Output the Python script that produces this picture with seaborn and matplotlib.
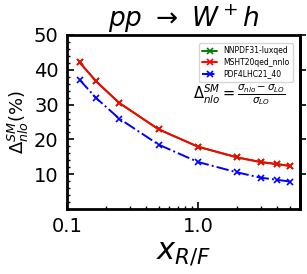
import numpy as np
import pandas as pd
import seaborn as sns
import matplotlib
matplotlib.use("Agg")
import matplotlib.pyplot as plt
from matplotlib.ticker import MultipleLocator, FixedLocator, NullFormatter

# scale factor x_{R/F}
x_rf = [0.125, 1 / 6, 0.25, 0.5, 1.0, 2.0, 3.0, 4.0, 5.0]

# Delta^SM_nlo in percent
nnpdf31 = [42.1, 36.7, 30.5, 22.9, 17.9, 14.8, 13.5, 12.9, 12.4]
msht20 = [42.1, 36.7, 30.5, 22.9, 17.9, 14.8, 13.5, 12.9, 12.4]
pdf4lhc21 = [37.1, 31.9, 26.0, 18.5, 13.5, 10.5, 9.0, 8.4, 7.9]

series_names = ["NNPDF31-luxqed", "MSHT20qed_nnlo", "PDF4LHC21_40"]
series_vals = [nnpdf31, msht20, pdf4lhc21]
colors = ["green", "red", "blue"]
linestyles = ["-", "-", "-."]

sns.set_style("ticks", {"axes.edgecolor": "black", "xtick.color": "black",
                        "ytick.color": "black", "text.color": "black",
                        "axes.labelcolor": "black"})

fig = plt.figure(figsize=(3.07, 2.74), dpi=100)
ax = fig.add_axes([67 / 307, 1 - 209 / 274, 233 / 307, 174 / 274])

for name, vals, c, ls in zip(series_names, series_vals, colors, linestyles):
    df = pd.DataFrame({"x": x_rf, "y": vals})
    sns.lineplot(data=df, x="x", y="y", ax=ax, color=c, linestyle=ls,
                 marker="x", markersize=5, markeredgewidth=1.2,
                 markeredgecolor=c, linewidth=1.4, label=name)

ax.set_xscale("log")
ax.set_xlim(0.1, 6.0)
ax.set_ylim(0, 50)
ax.xaxis.set_major_locator(FixedLocator([0.1, 1.0]))
ax.set_xticklabels(["0.1", "1.0"])
ax.xaxis.set_minor_locator(FixedLocator([0.2, 0.3, 0.4, 0.5, 0.6, 0.7, 0.8, 0.9, 2, 3, 4, 5]))
ax.xaxis.set_minor_formatter(NullFormatter())
ax.yaxis.set_major_locator(FixedLocator([10, 20, 30, 40, 50]))
ax.yaxis.set_minor_locator(MultipleLocator(2))

ax.tick_params(axis="both", which="major", direction="in", length=5, width=1.2,
               labelsize=14, pad=6, color="black", labelcolor="black")
ax.tick_params(axis="both", which="minor", direction="in", length=2.5, width=1,
               color="black")
for sp in ax.spines.values():
    sp.set_linewidth(2)
    sp.set_color("black")
    sp.set_visible(True)

sec = ax.secondary_yaxis("right")
sec.yaxis.set_major_locator(FixedLocator([10, 20, 30, 40, 50]))
sec.tick_params(direction="out", length=4, width=1.2, labelright=False, color="black")
sec.spines["right"].set_linewidth(2)
sec.spines["right"].set_color("black")

ax.set_xlabel(r"$x_{R/F}$", fontsize=22, labelpad=2)
ax.set_ylabel(r"$\Delta^{SM}_{nlo}(\%)$", fontsize=13, labelpad=2)
ax.set_title(r"$pp\ \rightarrow\ W^+h$", fontsize=19, pad=2)

ax.legend(loc="upper right", fontsize=5.5, frameon=True, handlelength=2.0,
          borderpad=0.4, labelspacing=0.35, bbox_to_anchor=(0.985, 0.975))
ax.text(0.74, 0.655, r"$\Delta^{SM}_{nlo}=\frac{\sigma_{nlo}-\sigma_{LO}}{\sigma_{LO}}$",
        transform=ax.transAxes, ha="center", va="center", fontsize=10.5)

fig.savefig("out.png", dpi=100)
